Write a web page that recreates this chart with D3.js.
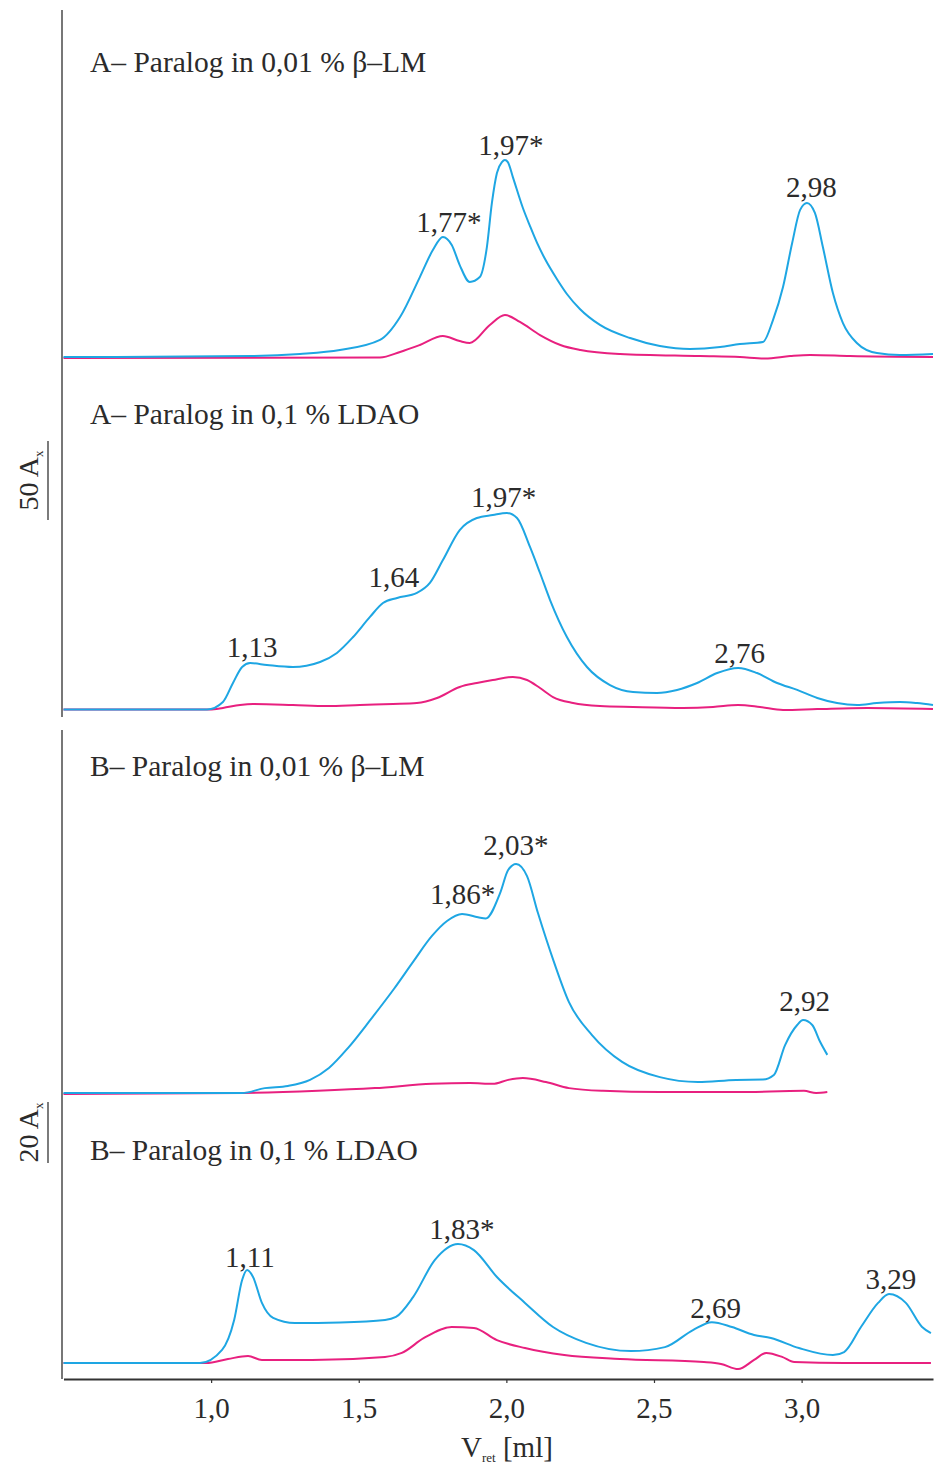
<!DOCTYPE html>
<html>
<head>
<meta charset="utf-8">
<script src="https://cdn.jsdelivr.net/npm/d3@7"></script>
<style>
  body { margin: 0; background: #fff; }
  text { font-family: "Liberation Serif", "Times New Roman", serif; fill: #2b2b2b; }
</style>
</head>
<body>
<div id="chart"></div>
<script>
// traces: [V_ret (ml), absorbance (A_x above baseline)]
var a1Blue = [[0.500,0.3],[1.132,0.9],[1.301,2.2],[1.436,4.7],[1.572,11.1],[1.640,25.6],[1.707,50.9],[1.751,68.0],
  [1.785,76.3],[1.815,71.2],[1.842,58.5],[1.876,47.8],[1.910,50.9],[1.934,69.9],[1.951,97.8],[1.968,116.8],
  [1.985,123.7],[1.995,125.0],[2.005,123.7],[2.022,114.2],[2.056,94.6],[2.080,83.2],[2.104,72.5],[2.131,62.3],
  [2.171,49.7],[2.205,40.2],[2.249,30.7],[2.317,20.6],[2.419,12.3],[2.520,7.3],[2.622,5.4],[2.724,6.6],
  [2.791,8.5],[2.869,9.8],[2.903,23.7],[2.937,44.6],[2.968,72.5],[2.995,93.4],[3.018,97.8],[3.045,91.5],
  [3.072,69.9],[3.106,40.8],[3.140,21.8],[3.187,9.2],[3.255,2.8],[3.333,1.6],[3.445,2.2]];
var a1Pink = [[0.500,-0.3],[1.572,0],[1.640,3.5],[1.707,7.9],[1.785,13.6],[1.842,10.4],[1.876,9.2],[1.944,20.6],
  [1.995,26.9],[2.046,22.5],[2.114,14.2],[2.183,7.9],[2.251,4.7],[2.385,2.2],[2.656,0.9],[2.791,0.3],
  [2.876,-0.6],[2.961,0.9],[3.029,1.6],[3.164,0.9],[3.445,0.3]];

var a2Blue = [[0.500,0.3],[0.986,0.3],[1.040,5.1],[1.074,17.1],[1.105,27.2],[1.132,29.7],[1.189,28.5],
  [1.277,27.2],[1.369,30.4],[1.426,36.1],[1.481,46.2],[1.538,58.9],[1.582,67.7],[1.630,70.9],[1.697,74.1],
  [1.741,80.4],[1.785,94.9],[1.842,113.9],[1.900,121.5],[1.954,123.4],[2.002,124.7],[2.036,121.5],[2.080,103.2],
  [2.114,86.7],[2.148,69.6],[2.205,46.2],[2.273,27.2],[2.351,15.8],[2.429,11.4],[2.510,10.8],[2.578,12.7],
  [2.646,17.1],[2.714,23.4],[2.785,26.6],[2.849,23.4],[2.917,17.1],[2.985,12.7],[3.053,7.6],[3.120,4.4],
  [3.188,3.2],[3.255,4.4],[3.333,5.1],[3.391,4.4],[3.445,3.2]];
var a2Pink = [[0.500,0.3],[0.996,0.3],[1.040,1.3],[1.098,3.2],[1.142,3.8],[1.277,3.2],[1.392,2.5],[1.504,3.2],
  [1.616,3.8],[1.697,4.4],[1.765,7.6],[1.842,14.6],[1.900,17.1],[1.954,19.0],[2.022,20.9],[2.070,19.0],
  [2.114,13.9],[2.158,8.2],[2.226,4.4],[2.317,2.5],[2.429,1.9],[2.598,1.3],[2.700,1.9],[2.785,3.2],[2.859,1.9],
  [2.937,0],[3.053,0.6],[3.222,1.3],[3.445,0.6]];

var b1Blue = [[0.500,0],[1.105,0],[1.182,1.6],[1.260,2.3],[1.335,4.3],[1.399,8.2],[1.464,14.8],[1.542,24.3],
  [1.619,34.1],[1.684,43.0],[1.748,51.5],[1.799,56.4],[1.850,58.7],[1.904,57.6],[1.930,57.2],[1.979,65.6],
  [2.006,73.1],[2.033,75.1],[2.070,71.1],[2.107,59.0],[2.161,43.0],[2.212,29.8],[2.290,19.0],[2.392,10.2],
  [2.520,5.2],[2.649,3.6],[2.778,4.3],[2.869,4.4],[2.906,5.9],[2.944,15.7],[2.985,22.3],[3.005,23.9],
  [3.036,22.3],[3.063,16.7],[3.087,12.5]];
var b1Pink = [[0.500,-0.3],[1.105,0],[1.362,0.7],[1.555,1.6],[1.748,3.0],[1.877,3.3],[1.954,3.0],[2.006,4.3],
  [2.056,4.9],[2.134,3.6],[2.212,1.6],[2.327,0.7],[2.520,0.3],[2.778,0.3],[3.008,0.7],[3.049,0],[3.087,0.3]];

var b2Blue = [[0.500,0],[0.962,0],[1.037,4.3],[1.078,14.1],[1.105,27.2],[1.122,30.5],[1.142,28.2],[1.172,19.7],
  [1.210,14.8],[1.284,13.1],[1.437,13.3],[1.589,14.1],[1.626,15.1],[1.684,21.6],[1.758,33.8],[1.836,39.0],
  [1.890,37.0],[1.968,28.2],[2.063,19.7],[2.158,11.8],[2.270,6.6],[2.422,3.9],[2.537,5.2],[2.632,10.8],
  [2.696,13.4],[2.764,11.8],[2.839,9.2],[2.896,8.2],[2.991,4.9],[3.106,2.6],[3.144,3.6],[3.201,11.8],
  [3.259,19.7],[3.296,22.6],[3.353,19.7],[3.408,11.8],[3.438,9.8]];
var b2Pink = [[0.500,0],[0.983,0],[1.057,1.3],[1.125,2.3],[1.172,1.0],[1.342,1.0],[1.589,2.0],[1.646,3.3],
  [1.721,8.2],[1.815,11.8],[1.890,11.5],[1.968,7.5],[2.063,4.9],[2.196,2.6],[2.385,1.3],[2.669,0.3],
  [2.727,-0.3],[2.785,-2.0],[2.839,1.0],[2.880,3.3],[2.934,2.0],[2.975,0.3],[3.144,0],[3.438,0]];

// peak labels: [text, V_ret, absorbance of label baseline]
var a1Labels = [["1,77*",1.805,79.4],["1,97*",2.015,128.2],["2,98",3.033,101.6]];
var a2Labels = [["1,13",1.139,33.5],["1,64",1.619,77.8],["1,97*",1.991,128.5],["2,76",2.790,29.7]];
var b1Labels = [["1,86*",1.852,62.0],["2,03*",2.032,78.0],["2,92",3.010,26.9]];
var b2Labels = [["1,11",1.131,31.5],["1,83*",1.849,40.7],["2,69",2.709,14.8],["3,29",3.302,24.3]];

var xTicks = [1.0, 1.5, 2.0, 2.5, 3.0];

var panelTitles = ["A\u2013 Paralog in 0,01 % \u03b2\u2013LM", "A\u2013 Paralog in 0,1 % LDAO",
  "B\u2013 Paralog in 0,01 % \u03b2\u2013LM", "B\u2013 Paralog in 0,1 % LDAO"];

var width = 952, height = 1465;
var blue = "#1ea6e3", pink = "#e8207f", ink = "#2b2b2b";

var svg = d3.select("#chart")
  .append("svg")
  .attr("width", width)
  .attr("height", height);

var x = d3.scaleLinear()
  .domain([0.5, 3.445])
  .range([63.5, 933]);

// baseline pixel and px per absorbance unit for each trace pair
var panels = [
  { title: panelTitles[0], blue: a1Blue, pink: a1Pink, labels: a1Labels, base: 357.5, k: 1.58, titleY: 72 },
  { title: panelTitles[1], blue: a2Blue, pink: a2Pink, labels: a2Labels, base: 710, k: 1.58, titleY: 424 },
  { title: panelTitles[2], blue: b1Blue, pink: b1Pink, labels: b1Labels, base: 1093, k: 3.05, titleY: 776 },
  { title: panelTitles[3], blue: b2Blue, pink: b2Pink, labels: b2Labels, base: 1363, k: 3.05, titleY: 1160 }
];

panels.forEach(function (p) {
  var y = d3.scaleLinear()
    .domain([0, 100])
    .range([p.base, p.base - 100 * p.k]);

  var line = d3.line()
    .curve(d3.curveMonotoneX)
    .x(function (d) { return x(d[0]); })
    .y(function (d) { return y(d[1]); });

  svg.append("text")
    .attr("x", 90)
    .attr("y", p.titleY)
    .attr("font-size", 29.5)
    .text(p.title);

  svg.append("path")
    .datum(p.pink)
    .attr("fill", "none")
    .attr("stroke", pink)
    .attr("stroke-width", 2)
    .attr("stroke-linejoin", "round")
    .attr("d", line);

  svg.append("path")
    .datum(p.blue)
    .attr("fill", "none")
    .attr("stroke", blue)
    .attr("stroke-width", 2)
    .attr("stroke-linejoin", "round")
    .attr("d", line);

  svg.selectAll(null)
    .data(p.labels)
    .enter()
    .append("text")
    .attr("x", function (d) { return x(d[1]); })
    .attr("y", function (d) { return y(d[2]); })
    .attr("text-anchor", "middle")
    .attr("font-size", 29)
    .text(function (d) { return d[0]; });
});

// left axis segments, one for each group of two panels
[[10, 717], [730, 1379]].forEach(function (s) {
  svg.append("line")
    .attr("x1", 62).attr("x2", 62)
    .attr("y1", s[0]).attr("y2", s[1])
    .attr("stroke", "#555")
    .attr("stroke-width", 1.6);
});

// scale bars: 50 A_x for A panels, 20 A_x for B panels
function scaleBar(bottom, units, k, label) {
  var yb = d3.scaleLinear().domain([0, units]).range([bottom, bottom - units * k]);
  svg.append("line")
    .attr("x1", 48).attr("x2", 48)
    .attr("y1", yb(0)).attr("y2", yb(units))
    .attr("stroke", "#444")
    .attr("stroke-width", 1.4);
  var t = svg.append("text")
    .attr("transform", "translate(38," + yb(units / 2) + ") rotate(-90)")
    .attr("text-anchor", "middle")
    .attr("font-size", 28);
  t.append("tspan").text(label + " A");
  t.append("tspan").attr("font-size", 13).attr("dy", 5).text("x");
}
scaleBar(520, 50, 1.58, "50");
scaleBar(1163, 20, 3.05, "20");

// bottom axis
var xAxis = svg.append("g")
  .attr("transform", "translate(0,1379)")
  .call(d3.axisBottom(x)
    .tickValues(xTicks)
    .tickSize(4)
    .tickSizeOuter(0)
    .tickPadding(14)
    .tickFormat(function (d) { return d3.format(".1f")(d).replace(".", ","); }));
xAxis.select(".domain").attr("stroke", "#333").attr("stroke-width", 1.8);
xAxis.selectAll(".tick line").attr("stroke", "#333").attr("stroke-width", 1.2);
xAxis.selectAll(".tick text")
  .attr("font-family", "Liberation Serif, serif")
  .attr("font-size", 29)
  .attr("fill", ink);

var xTitle = svg.append("text")
  .attr("x", 461)
  .attr("y", 1457)
  .attr("font-size", 29);
xTitle.append("tspan").text("V");
xTitle.append("tspan").attr("font-size", 13).attr("dy", 5).text("ret");
xTitle.append("tspan").attr("dy", -5).text(" [ml]");
</script>
</body>
</html>
